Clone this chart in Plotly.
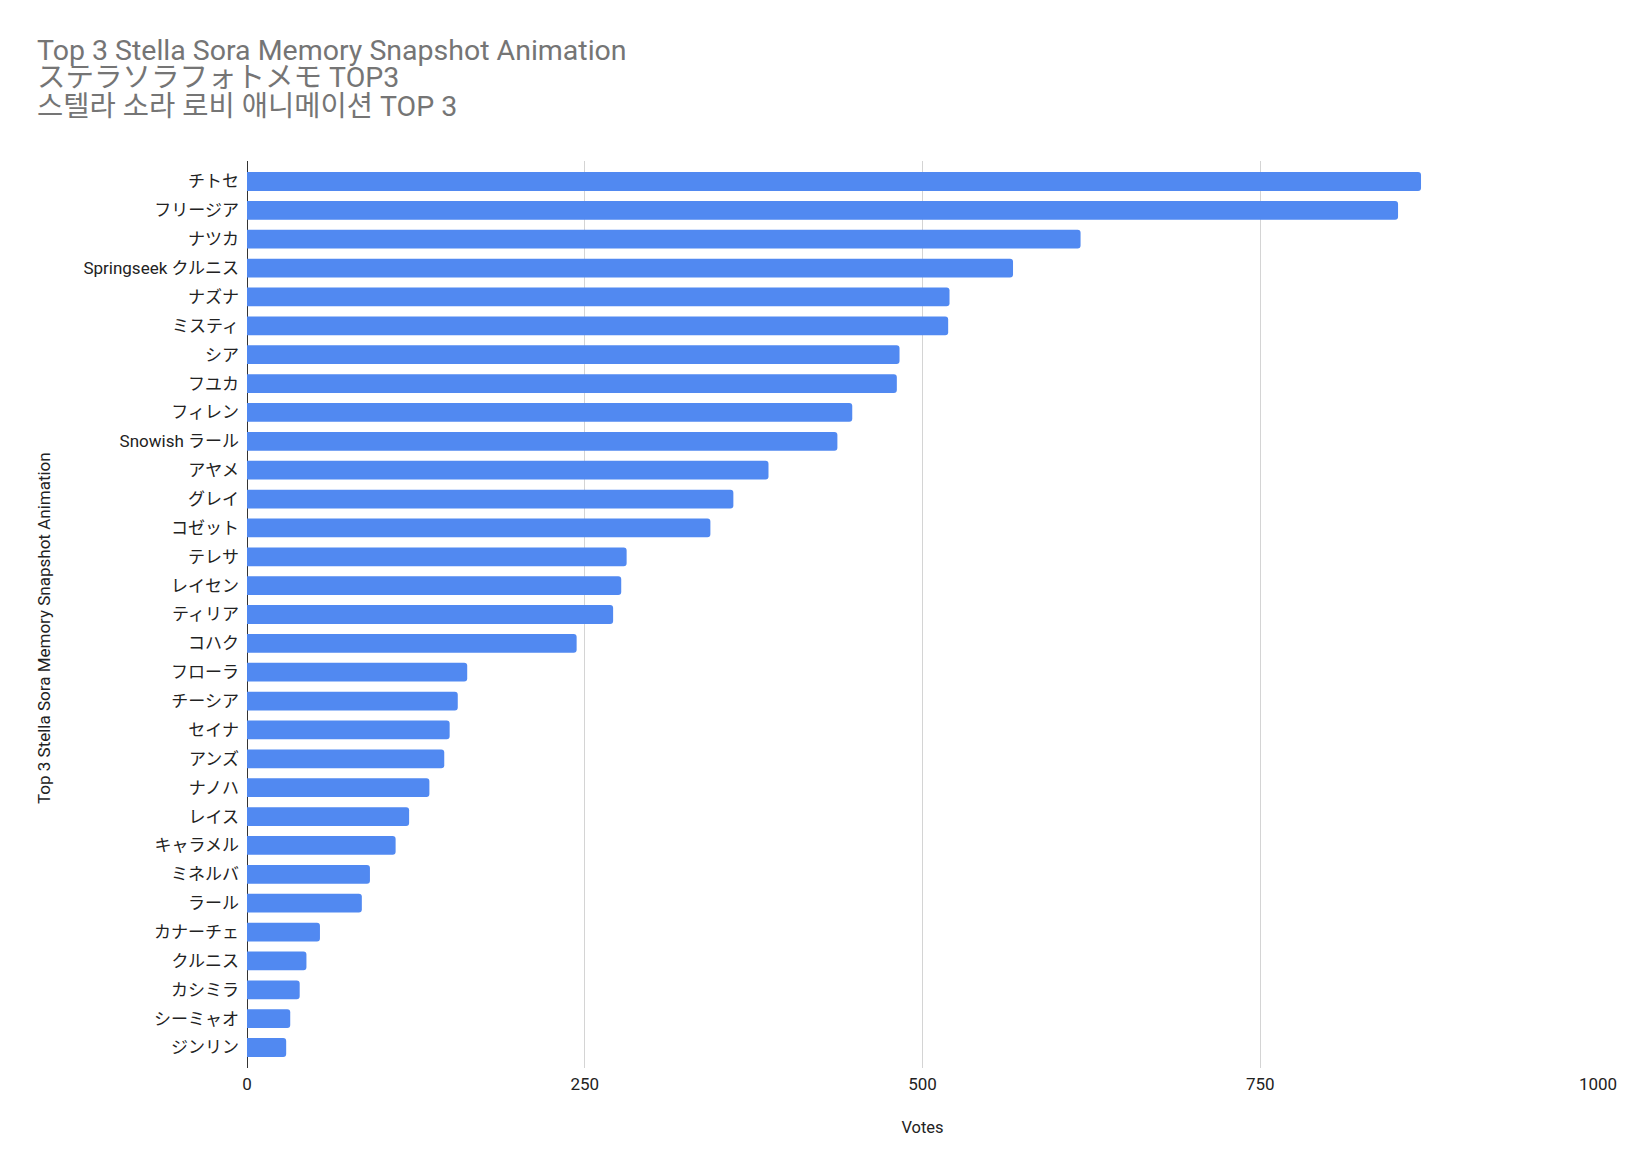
import plotly.graph_objects as go

# data (votes per character)
names = [
    "チトセ", "フリージア", "ナツカ", "Springseek クルニス", "ナズナ", "ミスティ",
    "シア", "フユカ", "フィレン", "Snowish ラール", "アヤメ", "グレイ", "コゼット",
    "テレサ", "レイセン", "ティリア", "コハク", "フローラ", "チーシア", "セイナ",
    "アンズ", "ナノハ", "レイス", "キャラメル", "ミネルバ", "ラール", "カナーチェ",
    "クルニス", "カシミラ", "シーミャオ", "ジンリン",
]
votes = [
    869, 852, 617, 567, 520, 519,
    483, 481, 448, 437, 386, 360, 343,
    281, 277, 271, 244, 163, 156, 150,
    146, 135, 120, 110, 91, 85, 54,
    44, 39, 32, 29,
]
x_ticks = [0, 250, 500, 750, 1000]

title_lines = [
    "Top 3 Stella Sora Memory Snapshot Animation",
    "ステラソラフォトメモ TOP3",
    "스텔라 소라 로비 애니메이션 TOP 3",
]
y_title = "Top 3 Stella Sora Memory Snapshot Animation"
x_title = "Votes"

font_family = "Roboto, Arial, 'Noto Sans CJK JP', 'Noto Sans CJK KR', sans-serif"
bar_color = "#5189F1"

# plot area in pixels (1638 x 1152 page)
W, H = 1638, 1152
L, R, T, B = 239, 48, 153, 92
plot_w = W - L - R
plot_h = H - T - B


def px_to_paper_x(px):
    return (px - L) / plot_w


def px_to_paper_y(py):
    return (H - B - py) / plot_h


fig = go.Figure()

fig.add_trace(
    go.Bar(
        x=votes,
        y=names,
        orientation="h",
        marker=dict(color=bar_color, line=dict(width=0), cornerradius=3),
        showlegend=False,
    )
)

# title: three tightly spaced lines
title_y_px = [42, 70, 98]
annotations = []
for line, ypx in zip(title_lines, title_y_px):
    annotations.append(
        dict(
            text=line,
            xref="paper",
            yref="paper",
            x=px_to_paper_x(27),
            y=px_to_paper_y(ypx),
            xanchor="left",
            yanchor="middle",
            showarrow=False,
            font=dict(family=font_family, size=28.5, color="#757575"),
        )
    )

# vertical axis title
annotations.append(
    dict(
        text=y_title,
        xref="paper",
        yref="paper",
        x=px_to_paper_x(36),
        y=px_to_paper_y(620),
        xanchor="center",
        yanchor="middle",
        textangle=-90,
        showarrow=False,
        font=dict(family=font_family, size=17, color="#222222"),
    )
)

fig.update_layout(
    width=W,
    height=H,
    plot_bgcolor="white",
    paper_bgcolor="white",
    font=dict(family=font_family, size=17, color="#222222"),
    margin=dict(l=L, r=R, t=T, b=B, autoexpand=False),
    bargap=0.35,
    annotations=annotations,
    xaxis=dict(
        range=[0, 1000],
        tickvals=x_ticks,
        showgrid=True,
        gridcolor="#d4d4d4",
        gridwidth=1,
        zeroline=True,
        zerolinecolor="#333333",
        zerolinewidth=1,
        showline=False,
        ticks="",
        ticklabelstandoff=4,
        tickfont=dict(size=17, color="#222222"),
        title=dict(text=x_title, standoff=28, font=dict(size=16.5, color="#222222")),
    ),
    yaxis=dict(
        type="category",
        range=[len(names) - 1 + 0.71, -0.71],
        showgrid=False,
        zeroline=False,
        showline=False,
        ticks="",
        ticklabelstandoff=7,
        tickfont=dict(size=17, color="#222222"),
    ),
)

fig.write_html("out.html")
